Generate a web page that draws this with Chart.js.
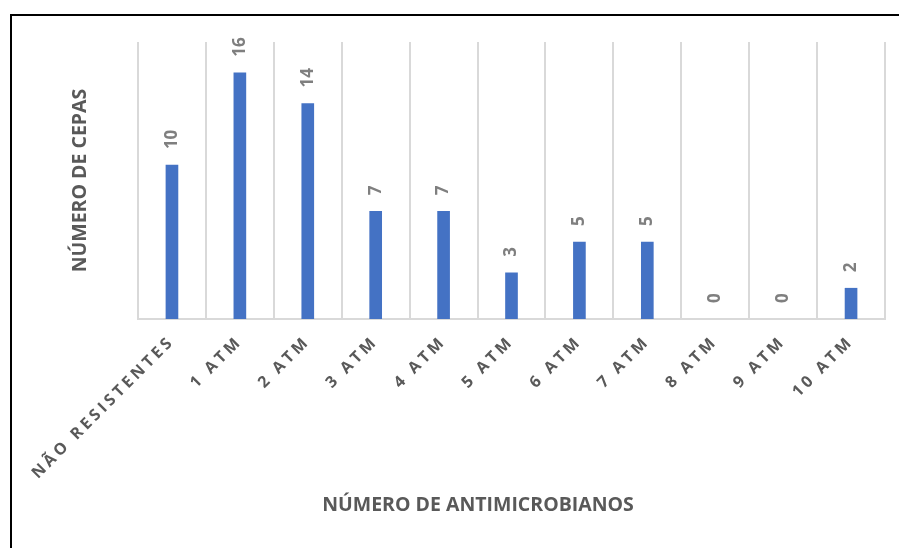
<!DOCTYPE html>
<html>
<head>
<meta charset="utf-8">
<script src="https://cdn.jsdelivr.net/npm/chart.js@4/dist/chart.umd.min.js"></script>
<style>
  html, body { margin: 0; padding: 0; background: #fff; }
  #wrap { position: relative; width: 899px; height: 548px; overflow: hidden; }
  #wrap canvas { position: absolute; left: 0; top: 0; }
  #frame {
    position: absolute; left: 10px; top: 14px; width: 1000px; height: 1000px;
    border-top: 2px solid #000; border-left: 2px solid #000; pointer-events: none;
  }
</style>
</head>
<body>
<div id="wrap">
  <canvas id="chart" width="899" height="548"></canvas>
  <div id="frame"></div>
</div>
<script>
// Number of strains by count of antimicrobials they resist
const categories = ['NÃO RESISTENTES', '1 ATM', '2 ATM', '3 ATM', '4 ATM', '5 ATM',
                    '6 ATM', '7 ATM', '8 ATM', '9 ATM', '10 ATM'];
const cepas = [10, 16, 14, 7, 7, 3, 5, 5, 0, 0, 2];
const yMin = 0;
const yMax = 18;
const xTitle = 'NÚMERO DE ANTIMICROBIANOS';
const yTitle = 'NÚMERO DE CEPAS';

const FONT = "'Open Sans', 'DejaVu Sans', sans-serif";
const DARK = '#595959';
const LABEL = '#7f7f7f';
const BAR = '#4472C4';
const GRID = '#d9d9d9';

// Category labels: wider letter spacing, and no clipping to the axis box
const spacedTicks = {
  id: 'spacedTicks',
  afterUpdate(chart) {
    const s = chart.scales.x;
    if (s && !s.__spaced) {
      const orig = s.drawLabels.bind(s);
      s.drawLabels = function (area) {
        const ctx = this.ctx;
        ctx.save();
        ctx.letterSpacing = '3.5px';
        orig(area);
        ctx.restore();
      };
      s._computeLabelArea = () => undefined;
      s.__spaced = true;
    }
  }
};

// Value labels written vertically above each bar
const valueLabels = {
  id: 'valueLabels',
  afterDatasetsDraw(chart) {
    const ctx = chart.ctx;
    const meta = chart.getDatasetMeta(0);
    const data = chart.data.datasets[0].data;
    ctx.save();
    ctx.fillStyle = LABEL;
    ctx.font = "bold 17px " + FONT;
    ctx.textAlign = 'left';
    ctx.textBaseline = 'middle';
    meta.data.forEach((bar, i) => {
      ctx.save();
      ctx.translate(bar.x, bar.y - 16);
      ctx.rotate(-Math.PI / 2);
      ctx.fillText(String(data[i]), 0, 0);
      ctx.restore();
    });
    ctx.restore();
  }
};

new Chart(document.getElementById('chart'), {
  type: 'bar',
  data: {
    labels: categories,
    datasets: [{
      data: cepas,
      backgroundColor: (c) => (c.raw === 0 ? 'rgba(0,0,0,0)' : BAR),
      borderWidth: 0,
      barThickness: 12
    }]
  },
  options: {
    responsive: false,
    devicePixelRatio: 1,
    animation: false,
    layout: { padding: { left: 71, right: 14, top: 42, bottom: 31.3 } },
    plugins: {
      legend: { display: false },
      tooltip: { enabled: false },
      title: {
        display: true,
        position: 'bottom',
        text: xTitle,
        color: DARK,
        font: { family: FONT, size: 19.5, weight: 'bold', lineHeight: 1.2 },
        padding: { top: 24.3, bottom: 0 }
      }
    },
    scales: {
      x: {
        offset: true,
        grid: { display: true, offset: true, color: GRID, lineWidth: 2, drawTicks: false },
        border: { display: true, color: GRID, width: 2 },
        ticks: {
          color: DARK,
          font: { family: FONT, size: 16, weight: 'bold' },
          minRotation: 45,
          maxRotation: 45,
          padding: 13,
          autoSkip: false
        },
        afterFit(s) {
          s.paddingLeft = 0;
          s.paddingRight = 0;
          s.height = 150;
        }
      },
      y: {
        min: yMin,
        max: yMax,
        grid: { display: false, drawTicks: false },
        border: { display: false },
        ticks: { display: false },
        title: {
          display: true,
          text: yTitle,
          color: DARK,
          font: { family: FONT, size: 19.5, weight: 'bold', lineHeight: 1.2 },
          padding: { top: -2.7, bottom: 46.3 }
        }
      }
    }
  },
  plugins: [spacedTicks, valueLabels]
});
</script>
</body>
</html>
